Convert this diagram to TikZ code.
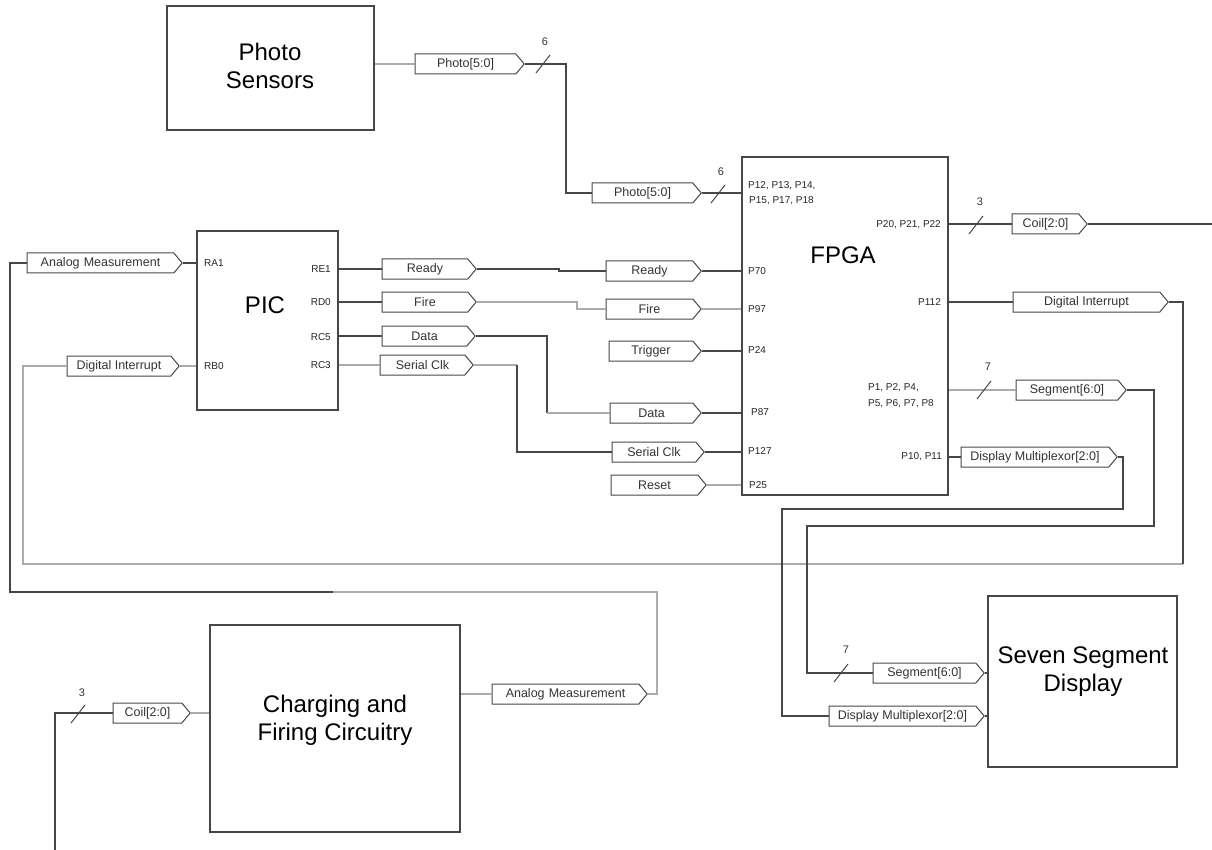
\documentclass[tikz,border=0pt]{standalone}
\usepackage{fontspec}
\setmainfont{Liberation Sans}
\usetikzlibrary{shapes.symbols,calc}
\definecolor{dk}{HTML}{474747}
\definecolor{lt}{HTML}{ABABAB}
\begin{document}
\begin{tikzpicture}[x=1pt,y=-1pt,
  box/.style={draw=dk, line width=1.4pt, inner sep=0pt},
  port/.style={signal, signal to=east, signal pointer angle=100, draw=dk, line width=1pt,
    minimum height=20pt, inner sep=0pt, text=black!80, font=\fontsize{12.5}{14}\selectfont},
  pin/.style={font=\fontsize{10}{12}\selectfont, inner sep=0pt, text=black!85},
  title/.style={font=\fontsize{24}{28}\selectfont, align=center, inner sep=0pt},
  dw/.style={draw=dk, line width=1.2pt},
  lw/.style={draw=lt, line width=1.2pt},
  slash/.style={draw=dk, line width=1pt},
  bus/.style={font=\fontsize{11}{13}\selectfont, inner sep=0pt, text=black!80}]
\useasboundingbox (0,0) rectangle (1212,850);

% blocks
\node[box, minimum width=207pt, minimum height=124pt] (photo) at (270.5,68) {};
\node[title] (phototxt) at (270,66) {Photo\\Sensors};
\node[box, minimum width=141pt, minimum height=179pt] (pic) at (267.5,320.5) {};
\node[title] (pictxt) at (265,305) {PIC};
\node[box, minimum width=206pt, minimum height=338pt] (fpga) at (845,326) {};
\node[title] (fpgatxt) at (843,255) {FPGA};
\node[box, minimum width=189pt, minimum height=171pt] (ssd) at (1082.5,681.5) {};
\node[title] (ssdtxt) at (1083,672) {Seven Segment\\Display};
\node[box, minimum width=250pt, minimum height=207pt] (chg) at (335,728.5) {};
\node[title] (chgtxt) at (335,720) {Charging and\\Firing Circuitry};

% FPGA pins
\node[pin, anchor=west] (p12) at (748,186) {P12, P13, P14,};
\node[pin, anchor=west] (p15) at (749,201) {P15, P17, P18};
\node[pin, anchor=west] (p70) at (748,271) {P70};
\node[pin, anchor=west] (p97) at (748,309) {P97};
\node[pin, anchor=west] (p24) at (748,350) {P24};
\node[pin, anchor=west] (p87) at (751,412) {P87};
\node[pin, anchor=west] (p127) at (748,451) {P127};
\node[pin, anchor=west] (p25) at (749,485) {P25};
\node[pin, anchor=east] (p20) at (941,225) {P20, P21, P22};
\node[pin, anchor=east] (p112) at (941,302) {P112};
\node[pin, anchor=west] (p1) at (868,388) {P1, P2, P4,};
\node[pin, anchor=west] (p5) at (868,404) {P5, P6, P7, P8};
\node[pin, anchor=east] (p10) at (942,457) {P10, P11};

% PIC pins
\node[pin, anchor=west] (ra1) at (204,263) {RA1};
\node[pin, anchor=west] (rb0) at (204,366) {RB0};
\node[pin, anchor=east] (re1) at (331,269) {RE1};
\node[pin, anchor=east] (rd0) at (331,302) {RD0};
\node[pin, anchor=east] (rc5) at (331,337) {RC5};
\node[pin, anchor=east] (rc3) at (331,365) {RC3};

% ports
\node[port, minimum width=109pt] (pps) at (465.5,64) {Photo[5:0]};
\node[port, minimum width=109pt] (ppf) at (642.5,193) {Photo[5:0]};
\node[port, minimum width=155pt] (am1) at (100.5,263) {Analog\,\,Measurement};
\node[port, minimum width=112pt] (di1) at (119,366) {Digital Interrupt};
\node[port, minimum width=94pt] (rdy1) at (425,269) {Ready};
\node[port, minimum width=94pt] (fire1) at (425,302) {Fire};
\node[port, minimum width=93pt] (data1) at (424.5,336) {Data};
\node[port, minimum width=93pt] (sclk1) at (422.5,365) {Serial Clk};
\node[port, minimum width=95pt] (rdy2) at (649.5,271) {Ready};
\node[port, minimum width=95pt] (fire2) at (649.5,309) {Fire};
\node[port, minimum width=92pt] (trig) at (651,351) {Trigger};
\node[port, minimum width=91pt] (data2) at (651.5,413) {Data};
\node[port, minimum width=92pt] (sclk2) at (654,452) {Serial Clk};
\node[port, minimum width=95pt] (reset) at (654.5,485) {Reset};
\node[port, minimum width=75pt] (coil1) at (1045.5,224) {Coil[2:0]};
\node[port, minimum width=155pt] (di2) at (1086.5,302) {Digital Interrupt};
\node[port, minimum width=110pt] (seg1) at (1067,390) {Segment[6:0]};
\node[port, minimum width=156pt] (dm1) at (1035,457) {Display Multiplexor[2:0]};
\node[port, minimum width=111pt] (seg2) at (924.5,673) {Segment[6:0]};
\node[port, minimum width=155pt] (dm2) at (902.5,716) {Display Multiplexor[2:0]};
\node[port, minimum width=155pt] (am2) at (565.5,694) {Analog\,\,Measurement};
\node[port, minimum width=77pt] (coil2) at (147.5,713) {Coil[2:0]};

% junction coordinates
\coordinate (j1) at (566,193);
\coordinate (a1) at (10,592);
\coordinate (a2) at (333,592);
\coordinate (a3) at (657,592);
\coordinate (d1) at (23,564);
\coordinate (d2) at (1183,564);
\coordinate (r1) at (559,269);
\coordinate (r2) at (559,271);
\coordinate (f1) at (577,302);
\coordinate (f2) at (577,309);
\coordinate (t1) at (547,336);
\coordinate (t2) at (547,413);
\coordinate (k1) at (517,365);
\coordinate (k2) at (517,452);
\coordinate (ce) at (1212,224);
\coordinate (g1) at (1154,526);
\coordinate (g2) at (807,526);
\coordinate (m1) at (1123,509);
\coordinate (m2) at (782,509);
\coordinate (c1) at (55,850);

% photo sensors -> FPGA
\draw[lw] (photo.east |- pps) -- (pps.west);
\draw[dw] (pps.east) -| (j1) -- (ppf.west);
\draw[dw] (ppf.east) -- (ppf.east -| fpga.west);

% analog measurement loop
\draw[dw] (am1.east) -- (am1.east -| pic.west);
\draw[dw] (am1.west) -| (a1) -- (a2);
\draw[lw] (a2) -- (a3) |- (am2.east);
\draw[lw] (am2.west) -- (am2.west -| chg.east);

% digital interrupt loop
\draw[lw] (di1.east) -- (di1.east -| pic.west);
\draw[lw] (di1.west) -| (d1) -- (d2);
\draw[dw] (d2) |- (di2.east);
\draw[dw] (di2.west -| fpga.east) -- (di2.west);

% PIC outputs
\draw[dw] (rdy1.west -| pic.east) -- (rdy1.west);
\draw[dw] (fire1.west -| pic.east) -- (fire1.west);
\draw[dw] (data1.west -| pic.east) -- (data1.west);
\draw[lw] (sclk1.west -| pic.east) -- (sclk1.west);
\draw[dw] (rdy1.east) -- (r1) -- (r2) -- (rdy2.west);
\draw[lw] (fire1.east) -- (f1) -- (f2) -- (fire2.west);
\draw[dw] (data1.east) -- (t1) -- (t2);
\draw[lw] (t2) -- (data2.west);
\draw[lw] (sclk1.east) -- (k1);
\draw[dw] (k1) -- (k2) -- (sclk2.west);

% FPGA inputs
\draw[dw] (rdy2.east) -- (rdy2.east -| fpga.west);
\draw[lw] (fire2.east) -- (fire2.east -| fpga.west);
\draw[dw] (trig.east) -- (trig.east -| fpga.west);
\draw[dw] (data2.east) -- (data2.east -| fpga.west);
\draw[dw] (sclk2.east) -- (sclk2.east -| fpga.west);
\draw[lw] (reset.east) -- (reset.east -| fpga.west);

% FPGA outputs
\draw[dw] (coil1.west -| fpga.east) -- (coil1.west);
\draw[dw] (coil1.east) -- (ce);
\draw[lw] (seg1.west -| fpga.east) -- (seg1.west);
\draw[dw] (seg1.east) -| (g1) -- (g2) |- (seg2.west);
\draw[dw] (dm1.west -| fpga.east) -- (dm1.west);
\draw[dw] (dm1.east) -| (m1) -- (m2) |- (dm2.west);
\draw[dw] (seg2.east) -- (seg2.east -| ssd.west);
\draw[dw] (dm2.east) -- (dm2.east -| ssd.west);

% coil to charging circuitry
\draw[lw] (coil2.east) -- (coil2.east -| chg.west);
\draw[dw] (coil2.west) -| (c1);

% bus slashes
\coordinate (s1) at (543,64);
\coordinate (s2) at (718,194);
\coordinate (s3) at (976,225);
\coordinate (s4) at (984,390);
\coordinate (s5) at (841,673);
\coordinate (s6) at (78,714);
\draw[slash] ([shift={(-7,9)}]s1) -- ([shift={(7,-9)}]s1);
\draw[slash] ([shift={(-7,9)}]s2) -- ([shift={(7,-9)}]s2);
\draw[slash] ([shift={(-7,9)}]s3) -- ([shift={(7,-9)}]s3);
\draw[slash] ([shift={(-7,9)}]s4) -- ([shift={(7,-9)}]s4);
\draw[slash] ([shift={(-7,9)}]s5) -- ([shift={(7,-9)}]s5);
\draw[slash] ([shift={(-7,9)}]s6) -- ([shift={(7,-9)}]s6);
\node[bus] (b1) at (545,42) {6};
\node[bus] (b2) at (721,172) {6};
\node[bus] (b3) at (980,202) {3};
\node[bus] (b4) at (988,367) {7};
\node[bus] (b5) at (846,650) {7};
\node[bus] (b6) at (82,693) {3};
\end{tikzpicture}
\end{document}
